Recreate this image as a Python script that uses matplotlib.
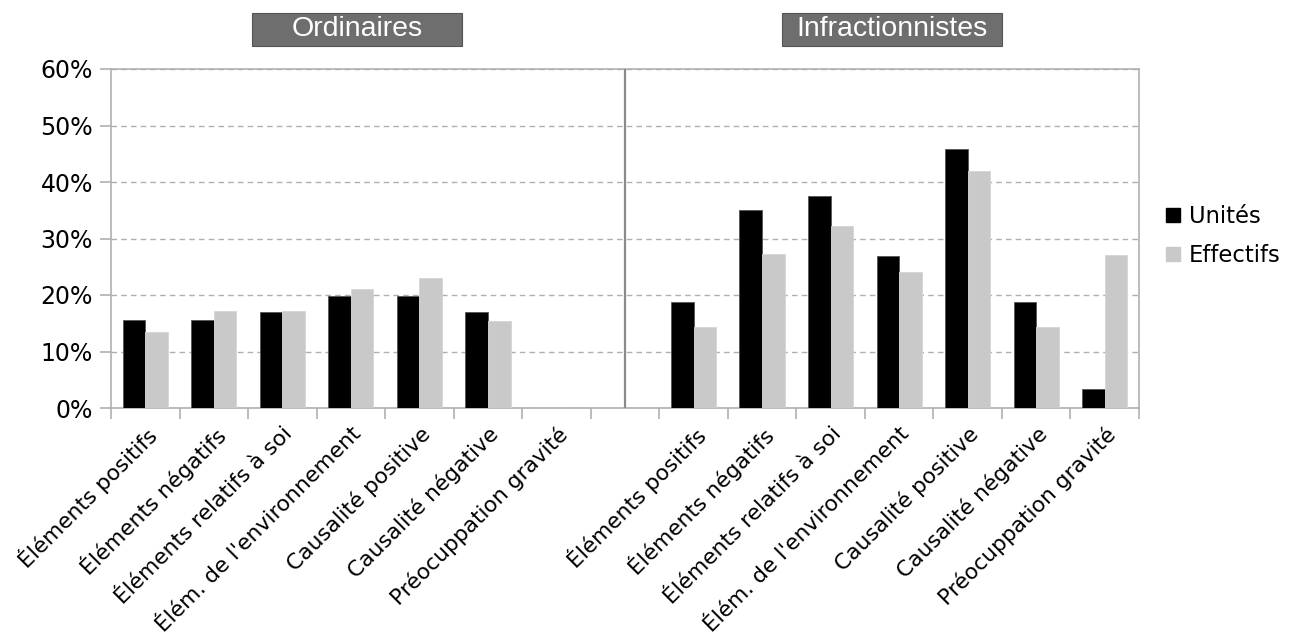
import numpy as np
import matplotlib.pyplot as plt
from matplotlib.patches import Patch

plt.rcParams["font.family"] = ["DejaVu Sans"]

# Data (percent)
categories = [
    "Éléments positifs",
    "Éléments négatifs",
    "Éléments relatifs à soi",
    "Élém. de l'environnement",
    "Causalité positive",
    "Causalité négative",
    "Préocuppation gravité",
]
groups = ["Ordinaires", "Infractionnistes"]
ordinaires_unites = [15.5, 15.5, 17.0, 19.8, 19.8, 17.0, 0.0]
ordinaires_effectifs = [13.5, 17.2, 17.2, 21.1, 23.0, 15.4, 0.0]
infraction_unites = [18.8, 35.1, 37.5, 26.9, 45.9, 18.8, 3.3]
infraction_effectifs = [14.3, 27.2, 32.2, 24.1, 41.9, 14.3, 27.1]
series_names = ["Unités", "Effectifs"]

# one empty slot between the two groups
n = len(categories)
x_left = np.arange(n)
x_right = np.arange(n) + n + 1
x_all = np.concatenate([x_left, x_right])
unites = ordinaires_unites + infraction_unites
effectifs = ordinaires_effectifs + infraction_effectifs

fig = plt.figure(figsize=(12.98, 6.43), dpi=100)
ax = fig.add_axes([111 / 1298, 235 / 643, (1139 - 111) / 1298, (408 - 69) / 643])

w = 0.33
ax.bar(x_all - w / 2, unites, width=w, color="black", edgecolor="#555555", linewidth=0.6, zorder=3)
ax.bar(x_all + w / 2, effectifs, width=w, color="#c9c9c9", edgecolor="#d5d5d5", linewidth=0.6, zorder=3)

ax.set_xlim(-0.5, 2 * n + 0.5)
ax.set_ylim(0, 60)
ax.set_yticks(np.arange(0, 61, 10))
ax.set_yticklabels([f"{v}%" for v in range(0, 61, 10)], fontsize=17)
ax.yaxis.grid(True, color="#b0b0b0", linestyle=(0, (4, 3)), linewidth=1.0, zorder=0)

# separator between the two groups
ax.axvline(n, color="#8a8a8a", linewidth=1.6, zorder=4)

ax.set_xticks(x_all)
ax.set_xticklabels(categories + categories, rotation=45, ha="right", va="top",
                   rotation_mode="anchor", fontsize=15.7)
ax.set_xticks(np.arange(-0.5, 2 * n + 1, 1), minor=True)
ax.tick_params(axis="x", which="major", length=0, pad=11)
ax.tick_params(axis="x", which="minor", length=8, color="#b0b0b0", width=1.2)
ax.tick_params(axis="y", length=8, color="#b0b0b0", width=1.2, pad=5)

for side in ["left", "right", "top", "bottom"]:
    ax.spines[side].set_color("#b0b0b0")
    ax.spines[side].set_linewidth(1.2)

# group titles in grey boxes
title_x = [357 / 1298, 892 / 1298]
box_w = [210, 220]
for gx, name, bw in zip(title_x, groups, box_w):
    fig.patches.append(plt.Rectangle((gx - bw / 2 / 1298, 1 - 46 / 643), bw / 1298, 33 / 643,
                                     transform=fig.transFigure, facecolor="#6e6e6e",
                                     edgecolor="#555555", linewidth=0.8, zorder=0))
    fig.text(gx, 1 - 29 / 643, name, ha="center", va="center", color="white",
             fontsize=20.5, family="Liberation Sans")

handles = [Patch(facecolor="black", edgecolor="black"),
           Patch(facecolor="#c9c9c9", edgecolor="#c9c9c9")]
fig.legend(handles, series_names, loc="center left", bbox_to_anchor=(1146 / 1298, 1 - 236 / 643),
           frameon=False, fontsize=16.3, handlelength=0.6, handleheight=0.6, handletextpad=0.4,
           labelspacing=0.7)

fig.savefig("out.png", dpi=100)
